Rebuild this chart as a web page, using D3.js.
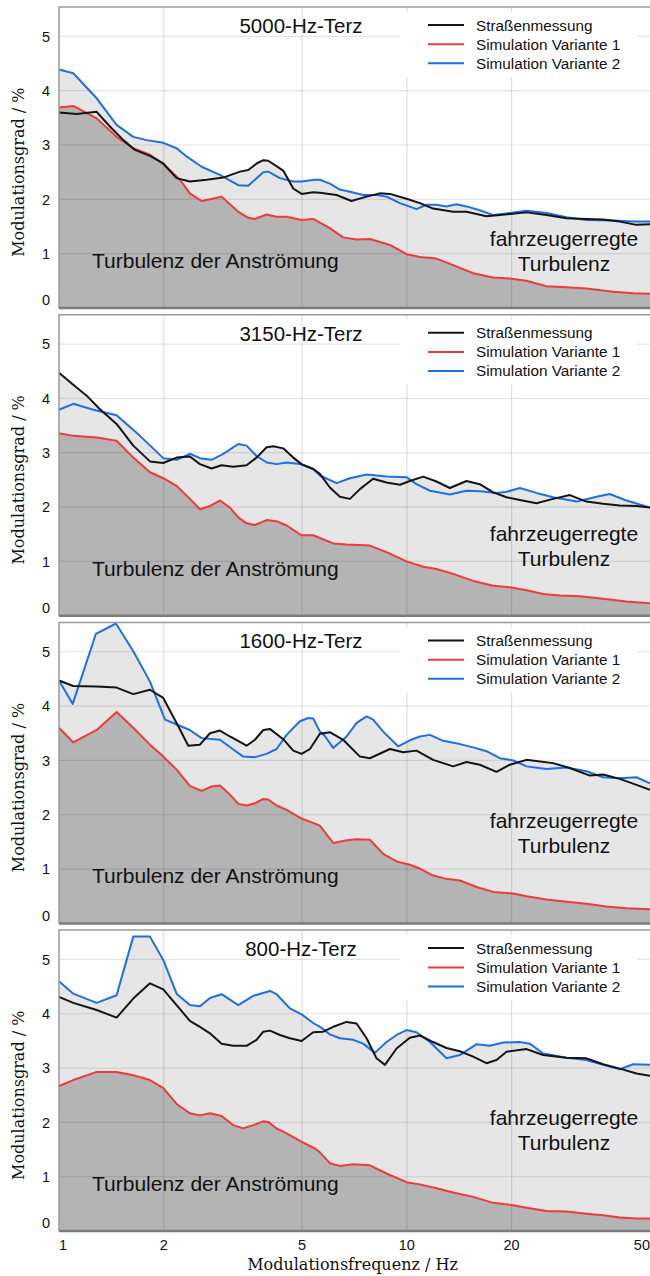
<!DOCTYPE html>
<html>
<head>
<meta charset="utf-8">
<script src="https://cdn.jsdelivr.net/npm/d3@7"></script>
<style>
	body { margin: 0; background: #fff; }
	svg { display: block; }
	.sans { font-family: 'Liberation Sans', Arial, sans-serif; fill: #111; }
	.serif { font-family: 'DejaVu Serif', serif; fill: #111; }
</style>
</head>
<body>
<svg id="chart" width="650" height="1276"></svg>
<script>
// values: [frequency in Hz, modulation depth in %]
var bands = ['5000-Hz-Terz', '3150-Hz-Terz', '1600-Hz-Terz', '800-Hz-Terz'];
var seriesNames = ['Straßenmessung', 'Simulation Variante 1', 'Simulation Variante 2'];
var yTicks = [0, 1, 2, 3, 4, 5];
var xTicks = [1, 2, 5, 10, 20, 50];
var xGrid = [2, 5, 10, 20];

var black5000 = [[1.00,3.60],[1.124,3.57],[1.283,3.61],[1.401,3.34],[1.531,3.09],[1.654,2.91],[1.826,2.80],[1.994,2.66],[2.178,2.39],[2.378,2.33],[2.657,2.36],[2.966,2.40],[3.312,2.51],[3.50,2.54],[3.698,2.66],[3.866,2.72],[3.996,2.71],[4.412,2.53],[4.714,2.20],[4.982,2.10],[5.381,2.13],[5.623,2.12],[6.28,2.08],[6.93,1.97],[7.66,2.05],[8.36,2.11],[8.94,2.10],[9.98,2.01],[10.9,1.93],[11.9,1.83],[13.59,1.77],[14.84,1.77],[16.94,1.69],[18.51,1.71],[22.08,1.76],[25.2,1.71],[28.76,1.65],[32.84,1.64],[36.66,1.63],[40.94,1.59],[45.71,1.53],[50,1.54]];
var red5000 = [[1.00,3.69],[1.099,3.72],[1.283,3.49],[1.464,3.15],[1.635,2.94],[1.826,2.82],[1.994,2.65],[2.227,2.36],[2.378,2.11],[2.57,1.97],[2.716,2.00],[2.933,2.05],[3.276,1.77],[3.50,1.66],[3.658,1.64],[3.952,1.72],[4.222,1.68],[4.511,1.68],[4.982,1.62],[5.381,1.64],[5.623,1.57],[6.007,1.47],[6.56,1.30],[7.17,1.26],[7.83,1.27],[8.94,1.16],[9.98,0.99],[10.9,0.94],[12.17,0.91],[13.59,0.79],[15.51,0.64],[17.71,0.56],[19.99,0.54],[22.08,0.50],[25.2,0.40],[28.76,0.38],[32.84,0.36],[39.17,0.30],[44.71,0.27],[50,0.26]];
var blue5000 = [[1.00,4.39],[1.099,4.32],[1.283,3.86],[1.464,3.37],[1.635,3.15],[1.786,3.09],[1.994,3.04],[2.178,2.94],[2.327,2.79],[2.57,2.60],[2.901,2.45],[3.276,2.26],[3.50,2.25],[3.866,2.50],[3.996,2.51],[4.316,2.39],[4.714,2.33],[4.982,2.33],[5.441,2.36],[5.623,2.36],[6.007,2.29],[6.42,2.18],[6.86,2.14],[7.49,2.08],[8.18,2.08],[8.74,2.05],[9.55,1.93],[10.66,1.82],[11.39,1.90],[12.17,1.90],[13.0,1.87],[13.89,1.91],[14.84,1.87],[16.21,1.80],[17.71,1.71],[19.34,1.74],[22.08,1.79],[25.2,1.75],[28.76,1.67],[32.84,1.62],[39.17,1.61],[44.71,1.59],[50,1.59]];

var black3150 = [[1.00,4.47],[1.099,4.25],[1.201,4.05],[1.311,3.80],[1.464,3.53],[1.635,3.13],[1.826,2.84],[1.994,2.81],[2.178,2.91],[2.378,2.93],[2.542,2.79],[2.746,2.71],[2.933,2.77],[3.169,2.74],[3.462,2.77],[3.698,2.91],[3.952,3.10],[4.13,3.12],[4.412,3.08],[4.714,2.91],[4.982,2.79],[5.381,2.70],[5.623,2.61],[6.007,2.36],[6.42,2.19],[6.86,2.15],[7.33,2.33],[8.0,2.52],[8.74,2.45],[9.55,2.41],[10.2,2.48],[11.14,2.56],[12.17,2.47],[13.29,2.35],[14.84,2.48],[16.21,2.42],[17.71,2.27],[19.34,2.18],[21.12,2.13],[23.59,2.07],[26.33,2.15],[29.41,2.22],[32.84,2.10],[36.66,2.06],[40.94,2.03],[45.71,2.02],[50,1.99]];
var red3150 = [[1.00,3.36],[1.099,3.31],[1.283,3.28],[1.464,3.22],[1.635,2.91],[1.826,2.64],[1.994,2.53],[2.178,2.39],[2.378,2.15],[2.542,1.96],[2.716,2.02],[2.901,2.12],[3.10,1.99],[3.276,1.81],[3.462,1.70],[3.658,1.67],[3.952,1.76],[4.222,1.74],[4.511,1.66],[4.982,1.48],[5.381,1.48],[5.623,1.43],[6.14,1.33],[6.71,1.31],[7.83,1.29],[8.74,1.17],[9.98,1.00],[11.14,0.90],[12.17,0.86],[13.59,0.77],[15.51,0.64],[17.71,0.55],[19.99,0.52],[22.08,0.47],[24.65,0.40],[27.52,0.37],[31.42,0.36],[36.66,0.31],[42.78,0.26],[50,0.23]];
var blue3150 = [[1.00,3.79],[1.099,3.90],[1.255,3.79],[1.464,3.69],[1.709,3.31],[1.994,2.90],[2.178,2.87],[2.378,2.98],[2.542,2.90],[2.746,2.87],[2.966,2.98],[3.276,3.16],[3.462,3.13],[3.698,2.94],[3.952,2.82],[4.222,2.79],[4.511,2.82],[4.926,2.79],[5.381,2.70],[5.623,2.58],[6.28,2.44],[6.86,2.53],[7.66,2.60],[8.74,2.56],[9.98,2.55],[10.66,2.42],[11.65,2.30],[13.29,2.23],[14.84,2.30],[16.21,2.29],[18.1,2.26],[19.34,2.28],[21.12,2.35],[23.59,2.26],[26.33,2.18],[30.73,2.10],[35.08,2.19],[38.31,2.24],[42.78,2.12],[50,1.99]];

var black1600 = [[1.00,4.47],[1.099,4.37],[1.283,4.36],[1.464,4.34],[1.635,4.22],[1.826,4.30],[1.994,4.15],[2.178,3.69],[2.353,3.27],[2.542,3.29],[2.716,3.50],[2.901,3.55],[3.10,3.44],[3.462,3.27],[3.658,3.38],[3.866,3.56],[4.04,3.58],[4.412,3.39],[4.714,3.18],[4.982,3.12],[5.265,3.21],[5.623,3.49],[6.007,3.52],[6.56,3.38],[7.33,3.07],[7.83,3.04],[8.94,3.21],[9.76,3.15],[10.66,3.18],[11.9,3.01],[13.59,2.89],[14.84,2.97],[16.21,2.92],[18.1,2.79],[19.77,2.92],[22.08,3.01],[26.33,2.95],[29.41,2.86],[33.57,2.72],[36.66,2.74],[40.94,2.66],[45.71,2.55],[50,2.46]];
var red1600 = [[1.00,3.60],[1.099,3.33],[1.283,3.56],[1.464,3.89],[1.635,3.60],[1.826,3.29],[1.994,3.07],[2.178,2.83],[2.378,2.53],[2.57,2.44],[2.746,2.52],[2.901,2.54],[3.10,2.37],[3.276,2.20],[3.462,2.17],[3.658,2.21],[3.866,2.29],[3.996,2.28],[4.222,2.17],[4.511,2.09],[4.982,1.93],[5.381,1.85],[5.623,1.80],[6.14,1.48],[6.71,1.53],[7.17,1.55],[7.83,1.54],[8.55,1.28],[9.34,1.14],[10.2,1.08],[10.9,1.01],[11.9,0.88],[13.0,0.82],[14.21,0.79],[15.86,0.67],[17.71,0.58],[20.21,0.55],[22.08,0.50],[25.2,0.44],[28.76,0.40],[32.84,0.36],[37.48,0.31],[42.78,0.28],[50,0.26]];
var blue1600 = [[1.00,4.47],[1.095,4.04],[1.277,5.33],[1.458,5.52],[1.635,5.01],[1.826,4.45],[2.017,3.75],[2.178,3.66],[2.378,3.56],[2.57,3.41],[2.901,3.38],[3.169,3.20],[3.386,3.07],[3.658,3.06],[3.952,3.12],[4.222,3.21],[4.511,3.47],[4.926,3.72],[5.206,3.78],[5.381,3.77],[5.623,3.53],[5.812,3.45],[6.14,3.23],[6.71,3.44],[7.17,3.69],[7.66,3.81],[8.0,3.75],[8.55,3.53],[9.44,3.26],[10.2,3.37],[10.9,3.44],[11.65,3.47],[12.72,3.36],[14.21,3.30],[15.51,3.24],[16.94,3.17],[18.51,3.04],[20.21,3.00],[22.08,2.89],[25.2,2.84],[28.76,2.87],[32.84,2.80],[36.66,2.69],[40.94,2.67],[45.71,2.69],[50,2.58]];

var black800 = [[1.00,4.31],[1.099,4.20],[1.283,4.07],[1.464,3.93],[1.635,4.28],[1.826,4.56],[1.994,4.45],[2.178,4.16],[2.378,3.87],[2.542,3.76],[2.716,3.64],[2.933,3.45],[3.169,3.41],[3.462,3.41],[3.698,3.52],[3.866,3.67],[4.04,3.69],[4.316,3.61],[4.611,3.55],[4.982,3.50],[5.381,3.66],[5.749,3.67],[6.14,3.76],[6.71,3.85],[7.17,3.82],[7.66,3.55],[8.18,3.18],[8.65,3.06],[9.34,3.36],[10.2,3.56],[10.9,3.60],[11.9,3.48],[13.0,3.37],[14.21,3.31],[15.51,3.21],[16.94,3.09],[18.1,3.15],[19.34,3.30],[22.08,3.35],[24.65,3.24],[28.76,3.19],[32.84,3.18],[36.66,3.07],[40.94,2.99],[45.71,2.90],[50,2.86]];
var red800 = [[1.00,2.67],[1.099,2.78],[1.283,2.93],[1.464,2.93],[1.635,2.87],[1.826,2.78],[1.994,2.63],[2.178,2.34],[2.378,2.17],[2.542,2.13],[2.716,2.17],[2.933,2.12],[3.169,1.95],[3.386,1.89],[3.618,1.95],[3.866,2.02],[3.996,2.01],[4.222,1.89],[4.511,1.80],[4.926,1.66],[5.441,1.52],[5.623,1.45],[6.007,1.25],[6.42,1.20],[7.01,1.23],[7.83,1.21],[8.74,1.06],[9.98,0.90],[10.9,0.86],[12.17,0.79],[13.59,0.71],[15.51,0.63],[17.71,0.52],[19.99,0.48],[22.08,0.43],[25.2,0.37],[28.76,0.36],[32.84,0.32],[36.66,0.29],[40.94,0.25],[45.71,0.23],[50,0.23]];
var blue800 = [[1.00,4.60],[1.099,4.37],[1.283,4.20],[1.464,4.34],[1.635,5.42],[1.826,5.42],[1.994,4.99],[2.178,4.37],[2.378,4.16],[2.542,4.14],[2.716,4.29],[2.933,4.36],[3.276,4.16],[3.618,4.33],[4.04,4.42],[4.222,4.36],[4.611,4.10],[4.982,3.99],[5.381,3.83],[5.686,3.74],[6.007,3.62],[6.42,3.55],[7.01,3.52],[7.49,3.45],[8.09,3.28],[8.74,3.48],[9.34,3.61],[9.98,3.70],[10.66,3.66],[11.65,3.48],[13.0,3.18],[14.21,3.24],[15.86,3.44],[17.32,3.41],[18.92,3.47],[21.12,3.48],[22.57,3.45],[24.65,3.27],[28.76,3.19],[32.84,3.15],[36.66,3.06],[40.94,2.98],[44.71,3.07],[50,3.06]];

var panels = [
	{ band: bands[0], black: black5000, red: red5000, blue: blue5000 },
	{ band: bands[1], black: black3150, red: red3150, blue: blue3150 },
	{ band: bands[2], black: black1600, red: red1600, blue: blue1600 },
	{ band: bands[3], black: black800, red: red800, blue: blue800 }
];

// layout
var plotLeft = 59, plotRight = 650;
var firstTop = 7, panelStep = 307.7, plotH = 301;
var yMax = 5.54;
// baseline of "fahrzeugerregte" below each panel top (label moves with the curves)
var vehicleLabelY = [239, 226, 206, 195];

var colors = {
	black: '#141414',
	red: '#ee3b37',
	blue: '#1d6fe3',
	lightFill: '#e6e6e6',
	darkFill: '#b4b4b4'
};

var svg = d3.select('#chart');

var x = d3.scaleLog().domain([1, 50]).range([plotLeft, plotRight]);

function drawPanel(p, i) {
	var top = firstTop + i * panelStep;
	var bottom = top + plotH;
	var y = d3.scaleLinear().domain([0, yMax]).range([bottom, top]);
	var g = svg.append('g').attr('class', 'panel');

	var line = d3.line()
		.x(function (d) { return x(d[0]); })
		.y(function (d) { return y(d[1]); });
	var area = d3.area()
		.x(function (d) { return x(d[0]); })
		.y0(y(0))
		.y1(function (d) { return y(d[1]); });

	// light area = union of the areas under measurement and variant 2
	g.append('path').datum(p.black).attr('d', area).attr('fill', colors.lightFill);
	g.append('path').datum(p.blue).attr('d', area).attr('fill', colors.lightFill);
	g.append('path').datum(p.red).attr('d', area).attr('fill', colors.darkFill);

	// grid on top of the fills
	g.selectAll('.hgrid').data(yTicks.slice(1)).enter()
		.append('line').attr('class', 'hgrid')
		.attr('x1', plotLeft).attr('x2', plotRight)
		.attr('y1', function (d) { return y(d); })
		.attr('y2', function (d) { return y(d); })
		.attr('stroke', '#000').attr('stroke-opacity', 0.1).attr('stroke-width', 1.2);
	g.selectAll('.vgrid').data(xGrid).enter()
		.append('line').attr('class', 'vgrid')
		.attr('x1', function (d) { return x(d); })
		.attr('x2', function (d) { return x(d); })
		.attr('y1', top).attr('y2', bottom)
		.attr('stroke', '#000').attr('stroke-opacity', 0.12).attr('stroke-width', 1.2);

	// legend box hides the grid
	var lg = g.append('g').attr('transform', 'translate(0,' + top + ')');
	lg.append('rect')
		.attr('x', 400).attr('y', 5).attr('width', 237).attr('height', 65)
		.attr('fill', '#fff');

	// curves
	[['red', p.red], ['blue', p.blue], ['black', p.black]].forEach(function (s) {
		g.append('path').datum(s[1])
			.attr('d', line)
			.attr('fill', 'none')
			.attr('stroke', colors[s[0]])
			.attr('stroke-width', 2)
			.attr('stroke-linejoin', 'round');
	});

	// frame: top and left thin, bottom axis heavier
	g.append('path')
		.attr('d', 'M' + plotLeft + ',' + bottom + 'V' + top + 'H' + plotRight)
		.attr('fill', 'none').attr('stroke', '#9a9a9a').attr('stroke-width', 1.5);
	g.append('line')
		.attr('x1', plotLeft).attr('x2', plotRight)
		.attr('y1', bottom).attr('y2', bottom)
		.attr('stroke', '#7c7c7c').attr('stroke-width', 2.5);

	// y tick labels (0 sits a little above the axis)
	g.selectAll('.ylab').data(yTicks).enter()
		.append('text').attr('class', 'sans')
		.attr('x', 50)
		.attr('y', function (d) { return y(d) + 5.2 - (d === 0 ? 8 : 0); })
		.attr('text-anchor', 'end')
		.style('font-size', '14.5px')
		.text(function (d) { return d; });

	g.append('text').attr('class', 'serif')
		.attr('transform', 'translate(24,' + y(2.5) + ') rotate(-90)')
		.attr('text-anchor', 'middle')
		.style('font-size', '16px')
		.text('Modulationsgrad / %');

	// band title
	g.append('text').attr('class', 'sans')
		.attr('x', 301).attr('y', top + 26)
		.attr('text-anchor', 'middle')
		.style('font-size', '20.5px')
		.text(p.band);

	// legend entries
	var legendKeys = ['black', 'red', 'blue'];
	var rowY = [18, 37.3, 56.3];
	legendKeys.forEach(function (k, j) {
		lg.append('line')
			.attr('x1', 428).attr('x2', 464)
			.attr('y1', rowY[j]).attr('y2', rowY[j])
			.attr('stroke', colors[k]).attr('stroke-width', 2);
		lg.append('text').attr('class', 'sans')
			.attr('x', 476).attr('y', rowY[j] + 5.5)
			.style('font-size', '15.3px')
			.text(seriesNames[j]);
	});

	// area annotations
	g.append('text').attr('class', 'sans')
		.attr('x', 92).attr('y', top + 261)
		.style('font-size', '21px')
		.text('Turbulenz der Anströmung');
	var vt = g.append('text').attr('class', 'sans')
		.attr('text-anchor', 'middle')
		.style('font-size', '21px');
	vt.append('tspan').attr('x', 564).attr('y', top + vehicleLabelY[i]).text('fahrzeugerregte');
	vt.append('tspan').attr('x', 564).attr('y', top + vehicleLabelY[i] + 25).text('Turbulenz');

	return bottom;
}

var lastBottom;
panels.forEach(function (p, i) {
	lastBottom = drawPanel(p, i);
});

// shared x axis labels under the last panel
svg.selectAll('.xlab').data(xTicks).enter()
	.append('text').attr('class', 'sans')
	.attr('x', function (d) { return x(d); })
	.attr('y', lastBottom + 19)
	.attr('text-anchor', function (d, i) {
		if (i === 0) {
			return 'start';
		}
		return i === xTicks.length - 1 ? 'end' : 'middle';
	})
	.style('font-size', '14.5px')
	.text(function (d) { return d; });

svg.append('text').attr('class', 'serif')
	.attr('x', (plotLeft + plotRight) / 2 - 2)
	.attr('y', lastBottom + 39)
	.attr('text-anchor', 'middle')
	.style('font-size', '16px')
	.text('Modulationsfrequenz / Hz');
</script>
</body>
</html>
